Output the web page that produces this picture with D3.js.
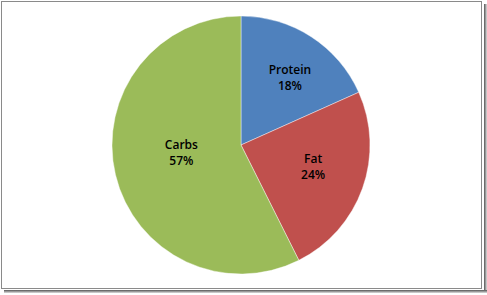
<!DOCTYPE html>
<html>
<head>
<meta charset="utf-8">
<script src="https://cdn.jsdelivr.net/npm/d3@7"></script>
<style>
  body { margin: 0; background: #fff; }
  svg { display: block; }
</style>
</head>
<body>
<div id="chart"></div>
<script>
// chart data
var categories = ["Protein", "Fat", "Carbs"];
var values = [18.3, 24.3, 57.4];
var colors = ["#4F81BD", "#C0504D", "#9BBB59"];

var svgWidth = 487;
var svgHeight = 295;

var svg = d3.select("#chart")
  .append("svg")
  .attr("width", svgWidth)
  .attr("height", svgHeight);

// frame + drop shadow
var defs = svg.append("defs");
var gv = defs.append("linearGradient").attr("id", "shadowV")
  .attr("x1", 0).attr("x2", 1).attr("y1", 0).attr("y2", 0);
gv.append("stop").attr("offset", "0%").attr("stop-color", "#555");
gv.append("stop").attr("offset", "100%").attr("stop-color", "#ddd");
var gh = defs.append("linearGradient").attr("id", "shadowH")
  .attr("x1", 0).attr("x2", 0).attr("y1", 0).attr("y2", 1);
gh.append("stop").attr("offset", "0%").attr("stop-color", "#555");
gh.append("stop").attr("offset", "100%").attr("stop-color", "#ddd");

svg.append("rect")
  .attr("x", 484).attr("y", 4)
  .attr("width", 3).attr("height", 289)
  .attr("fill", "url(#shadowV)");
svg.append("rect")
  .attr("x", 4).attr("y", 290)
  .attr("width", 483).attr("height", 3)
  .attr("fill", "url(#shadowH)");

svg.append("rect")
  .attr("x", 1.5).attr("y", 1.5)
  .attr("width", 480).attr("height", 287)
  .attr("fill", "#fff")
  .attr("stroke", "#8a8a8a")
  .attr("stroke-width", 1);

// pie
var cx = 241, cy = 145, radius = 129;
// label placement per slice (Excel best-fit): distance from centre
// and a small angle nudge off the bisector, in degrees
var labelDist = [84, 75, 60];
var labelShift = [2.7, -3.7, 7.1];

var pieGroup = svg.append("g")
  .attr("transform", `translate(${cx}, ${cy})`);

var pie = d3.pie()
  .sort(null)
  .value(d => d);

var arcs = pie(values);

var arc = d3.arc()
  .innerRadius(0)
  .outerRadius(radius);

pieGroup.selectAll("path")
  .data(arcs)
  .enter()
  .append("path")
  .attr("d", arc)
  .attr("fill", (d, i) => colors[i])
  .attr("stroke", "#fff")
  .attr("stroke-width", 0.6)
  .attr("stroke-opacity", 0.7);

var total = d3.sum(values);

var labels = pieGroup.selectAll("text")
  .data(arcs)
  .enter()
  .append("text")
  .attr("transform", (d, i) => {
    var a = (d.startAngle + d.endAngle) / 2 + labelShift[i] * Math.PI / 180;
    var x = Math.sin(a) * labelDist[i];
    var y = -Math.cos(a) * labelDist[i];
    return `translate(${x}, ${y})`;
  })
  .attr("text-anchor", "middle")
  .style("font-family", "'Open Sans', 'Noto Sans', sans-serif")
  .style("font-size", "12px")
  .style("font-weight", "600")
  .style("fill", "#000");

labels.append("tspan")
  .attr("x", 0)
  .attr("y", -3)
  .text((d, i) => categories[i]);

labels.append("tspan")
  .attr("x", 0)
  .attr("y", 13)
  .text(d => Math.round(d.value / total * 100) + "%");
</script>
</body>
</html>
